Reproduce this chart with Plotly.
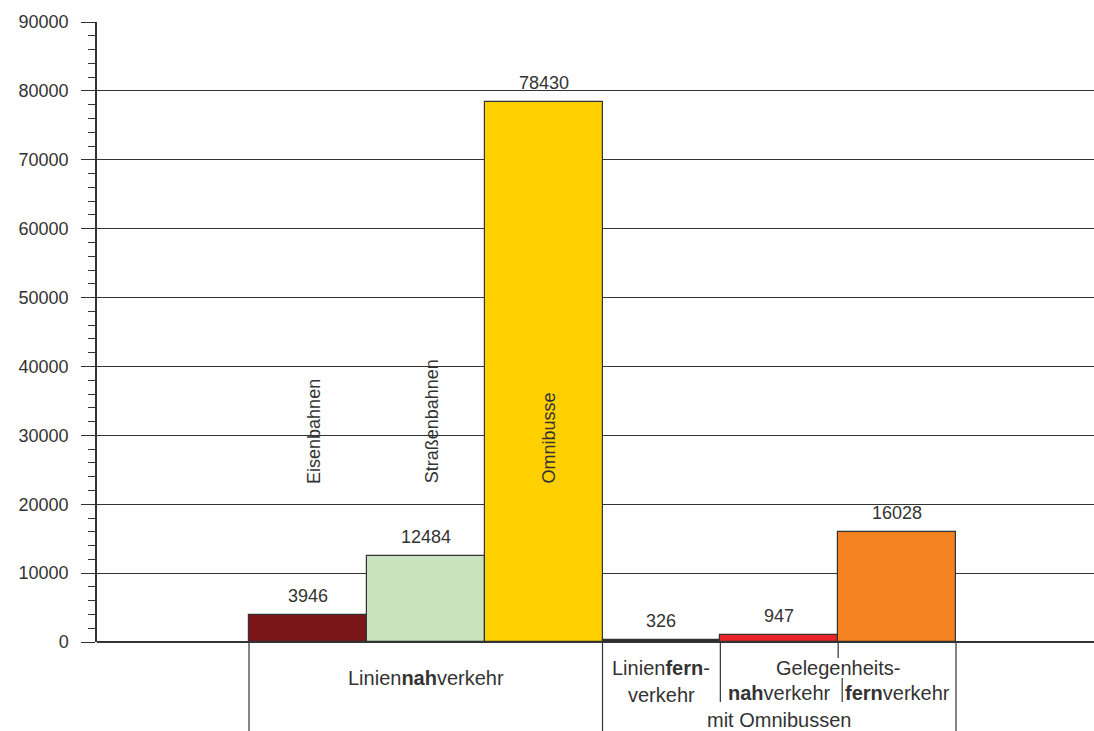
import plotly.graph_objects as go

categories = ["Eisenbahnen", "Straßenbahnen", "Omnibusse",
              "Linienfernverkehr", "Gelegenheitsnahverkehr", "Gelegenheitsfernverkehr"]
values = [3946, 12484, 78430, 326, 947, 16028]
colors = ["#7B1518", "#C8E3BD", "#FFD000", "#2A2A2A", "#E8232A", "#F58220"]
rotated_labels = ["Eisenbahnen", "Straßenbahnen", "Omnibusse"]
y_ticks = [0, 10000, 20000, 30000, 40000, 50000, 60000, 70000, 80000, 90000]

FONT = "Liberation Sans, Arial, sans-serif"
TXT = "#333333"
LINE = "#333333"

xs = list(range(len(values)))
XMIN, XMAX = -1.79, 6.671

fig = go.Figure()
fig.add_trace(go.Bar(
    x=xs, y=values, width=1.0,
    marker=dict(color=colors, line=dict(color=LINE, width=1.2)),
    showlegend=False, hoverinfo="skip",
))

ann = []
# value labels
for i, v in enumerate(values):
    ann.append(dict(x=i, y=v, xref="x", yref="y", text=str(v), showarrow=False,
                    yanchor="bottom", yshift=7,
                    font=dict(family=FONT, size=18, color=TXT)))
# rotated labels
for i, t in enumerate(rotated_labels):
    ann.append(dict(x=i + 0.05, y=22700, xref="x", yref="y", text=t, showarrow=False,
                    textangle=-90, yanchor="bottom",
                    font=dict(family=FONT, size=18, color=TXT)))

def px(xd):
    return (xd - XMIN) / (XMAX - XMIN)

BF = dict(family=FONT, size=20, color=TXT)
def lab(xd, yp, text):
    ann.append(dict(x=px(xd), y=yp, xref="paper", yref="paper", text=text,
                    showarrow=False, xanchor="center", yanchor="middle", font=BF))

lab(1, -0.058, "Linien<b>nah</b>verkehr")
lab(3, -0.042, "Linien<b>fern</b>-")
lab(3, -0.0855, "verkehr")
lab(4.5, -0.042, "Gelegenheits-")
lab(4, -0.0823, "<b>nah</b>verkehr")
lab(5, -0.0823, "<b>fern</b>verkehr")
lab(4, -0.1258, "mit Omnibussen")

shapes = []
def vline(xd, y0, y1):
    shapes.append(dict(type="line", xref="paper", yref="paper",
                       x0=px(xd), x1=px(xd), y0=y0, y1=y1,
                       line=dict(color=LINE, width=1.2)))

vline(-0.5, 0, -0.2)
vline(2.5, 0, -0.2)
vline(3.5, 0, -0.0968)
vline(4.5, 0, -0.0258)
vline(4.534, -0.058, -0.0968)
vline(5.5, 0, -0.2)

fig.update_layout(
    width=1094, height=731,
    margin=dict(l=97, r=0, t=22, b=89),
    plot_bgcolor="white", paper_bgcolor="white",
    bargap=0,
    annotations=ann, shapes=shapes,
    xaxis=dict(range=[XMIN, XMAX], visible=False),
    yaxis=dict(range=[0, 90000], tickvals=y_ticks, ticktext=[str(t) for t in y_ticks],
               showgrid=True, gridcolor=LINE, gridwidth=1.2,
               showline=True, linecolor=LINE, linewidth=1.5,
               ticks="outside", ticklen=14, tickcolor=LINE, tickwidth=1.2,
               ticklabelstandoff=9,
               zeroline=True, zerolinecolor=LINE, zerolinewidth=1.5,
               tickfont=dict(family=FONT, size=18, color=TXT),
               minor=dict(dtick=2000, ticks="outside", ticklen=7, tickcolor=LINE,
                          tickwidth=1.2, showgrid=False)),
)

fig.write_html("out.html")
